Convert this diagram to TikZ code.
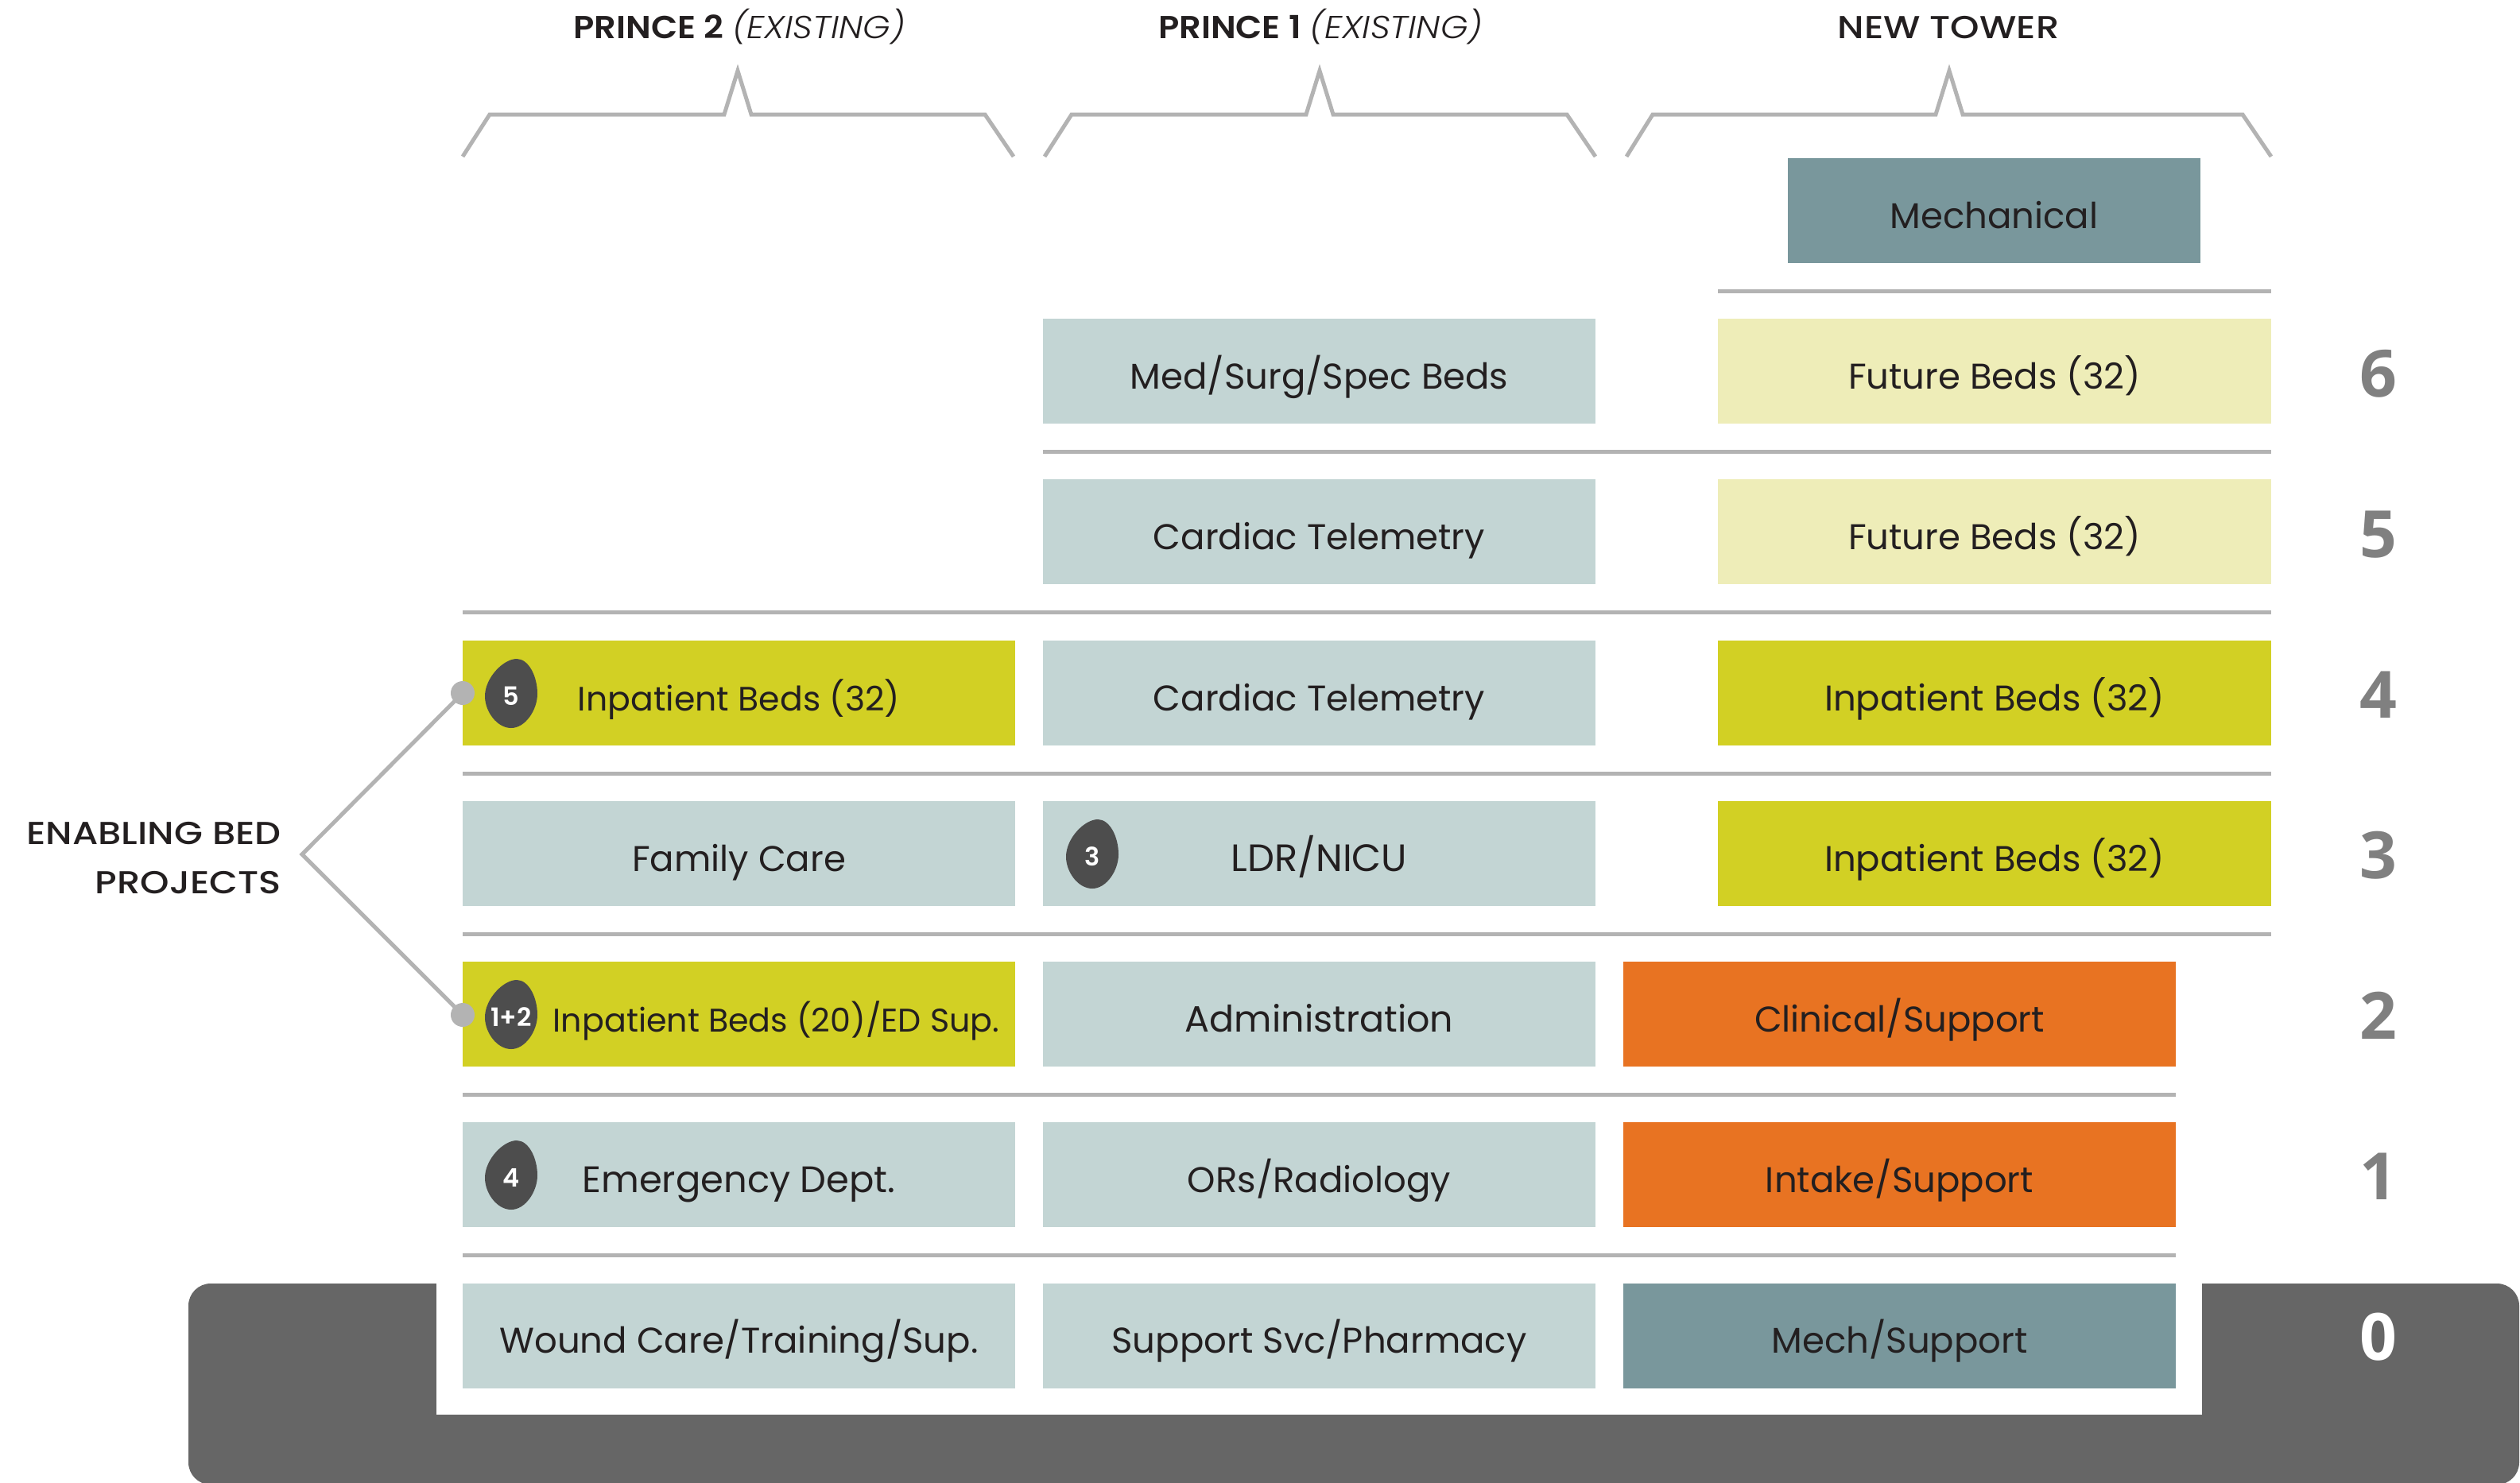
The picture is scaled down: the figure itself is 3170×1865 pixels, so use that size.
\documentclass[tikz,border=0pt]{standalone}
\usepackage{fontspec}
\setmainfont{Poppins}
\newfontfamily\medfont{Poppins Medium}[FakeStretch=1.16]
\newfontfamily\semifont{Poppins SemiBold}
\newfontfamily\headfont{Poppins SemiBold}[FakeStretch=1.08]
\newfontfamily\lightit{Poppins Light Italic}[FakeStretch=1.1]
\newfontfamily\numfont{Open Sans}[BoldFont={Open Sans Bold}]
\definecolor{limeC}{HTML}{D2D024}
\definecolor{paleC}{HTML}{EEEDB8}
\definecolor{tealL}{HTML}{C3D5D4}
\definecolor{tealD}{HTML}{79979C}
\definecolor{orangeC}{HTML}{E87322}
\definecolor{baseC}{HTML}{666666}
\definecolor{badgeC}{HTML}{4D4D4D}
\definecolor{ruleC}{HTML}{B3B3B3}
\definecolor{inkC}{HTML}{231F20}
\definecolor{numC}{HTML}{808080}
\tikzset{
  x=0.5pt,y=-0.5pt,
  cellbox/.style={anchor=north west,inner sep=0pt,outer sep=0pt,text=inkC,
    text height=44pt,text depth=22pt,font=\fontsize{22.5pt}{26pt}\selectfont},
  fs/.style={font=\fontsize{#1pt}{26pt}\selectfont},
  wideA/.style={cellbox,minimum width=347.5pt},
  mechbox/.style={cellbox,minimum width=259.5pt,fill=tealD},
  rulebar/.style={draw=ruleC,line width=2.5pt},
  bracketline/.style={draw=ruleC,line width=2.5pt,miter limit=10},
  header/.style={anchor=base,text=inkC,inner sep=0pt,font=\fontsize{20pt}{24pt}\selectfont},
  sidelabel/.style={anchor=base east,text=inkC,inner sep=0pt,font=\fontsize{20pt}{24pt}\selectfont\medfont},
  rownum/.style={anchor=base,inner sep=0pt,text=numC,font=\fontsize{41pt}{48pt}\selectfont\numfont\bfseries},
  badgetext/.style={inner sep=0pt,text=white,font=\fontsize{16pt}{18pt}\selectfont\semifont},
  dotnode/.style={circle,fill=ruleC,minimum size=15pt,inner sep=0pt},
}
\newcommand{\badgeat}[4]{%
  \fill[badgeC,shift={(#1,#2)}] (7,-44) .. controls (22,-44) and (33,-22) .. (33,0)
    .. controls (33,20) and (18,43) .. (0,43)
    .. controls (-18,43) and (-33,22) .. (-33,3)
    .. controls (-33,-20) and (-10,-44) .. (7,-44) -- cycle;
  \node[badgetext] (#3) at (#1,#2+3) {#4};}
\newcommand{\bracketshape}[5]{%
  \draw[bracketline] (#1,197) -- (#2,144) -- (#3-17,144) -- (#3,89) -- (#3+17,144) -- (#4,144) -- (#5,197);}
\begin{document}
\begin{tikzpicture}
\useasboundingbox (0,0) rectangle (3170,1865);
% base
\begin{scope}
\clip (0,0) rectangle (3170,1865);
\fill[baseC,rounded corners=14pt] (237,1615) rectangle (3169,1868);
\end{scope}
\fill[white] (549,1610) rectangle (2770,1780);
% headers
\node[header] (h2) at (930,48) {{\headfont PRINCE 2} {\lightit (EXISTING)}};
\node[header] (h1) at (1661,48) {{\headfont PRINCE 1} {\lightit (EXISTING)}};
\node[header] (h0) at (2451,48) {{\medfont NEW TOWER}};
% brackets
\bracketshape{582}{616}{928}{1239}{1275}
\bracketshape{1314}{1348}{1660}{1971}{2007}
\bracketshape{2046}{2079}{2452}{2821}{2857}
% rules
\draw[rulebar] (2161,366) -- (2857,366);
\draw[rulebar] (1312,568) -- (2857,568);
\draw[rulebar] (582,770.5) -- (2857,770.5);
\draw[rulebar] (582,973) -- (2857,973);
\draw[rulebar] (582,1175) -- (2857,1175);
\draw[rulebar] (582,1377) -- (2737,1377);
\draw[rulebar] (582,1579.5) -- (2737,1579.5);
% mechanical
\node[mechbox] (mech) at (2249,199) {Mechanical};
% row 6
\node[wideA,fill=tealL] (p1r6) at (1312,401) {Med/Surg/Spec Beds};
\node[wideA,minimum width=348pt,fill=paleC] (ntr6) at (2161,401) {Future Beds (32)};
% row 5
\node[wideA,fill=tealL] (p1r5) at (1312,603) {Cardiac Telemetry};
\node[wideA,minimum width=348pt,fill=paleC] (ntr5) at (2161,603) {Future Beds (32)};
% row 4
\node[wideA,fill=limeC,fs=21.3] (p2r4) at (582,806) {Inpatient Beds (32)};
\node[wideA,fill=tealL] (p1r4) at (1312,806) {Cardiac Telemetry};
\node[wideA,minimum width=348pt,fill=limeC] (ntr4) at (2161,806) {Inpatient Beds (32)};
% row 3
\node[wideA,fill=tealL] (p2r3) at (582,1008) {Family Care};
\node[wideA,fill=tealL,fs=24] (p1r3) at (1312,1008) {LDR/NICU};
\node[wideA,minimum width=348pt,fill=limeC] (ntr3) at (2161,1008) {Inpatient Beds (32)};
% row 2
\node[wideA,fill=limeC,fs=20.6] (p2r2) at (582,1210) {\hspace*{47pt}Inpatient Beds (20)/ED Sup.};
\node[wideA,fill=tealL,fs=23] (p1r2) at (1312,1210) {Administration};
\node[wideA,fill=orangeC] (ntr2) at (2042,1210) {Clinical/Support};
% row 1
\node[wideA,fill=tealL,fs=23.2] (p2r1) at (582,1412) {Emergency Dept.};
\node[wideA,fill=tealL] (p1r1) at (1312,1412) {ORs/Radiology};
\node[wideA,fill=orangeC] (ntr1) at (2042,1412) {Intake/Support};
% row 0
\node[wideA,fill=tealL] (p2r0) at (582,1614.5) {Wound Care/Training/Sup.};
\node[wideA,fill=tealL] (p1r0) at (1312,1614.5) {Support Svc/Pharmacy};
\node[wideA,fill=tealD] (ntr0) at (2042,1614.5) {Mech/Support};
% badges
\badgeat{643}{873}{b5}{5}
\badgeat{1374}{1075}{b3}{3}
\badgeat{643}{1277}{b12}{1+2}
\badgeat{643}{1479}{b4}{4}
% enabling bed projects
\node[sidelabel] (lab1) at (354,1062) {ENABLING BED};
\node[sidelabel] (lab2) at (354,1124) {PROJECTS};
\coordinate (apex) at (380,1075);
\node[dotnode] (dotA) at (582,872) {};
\node[dotnode] (dotB) at (582,1277) {};
\draw[rulebar,miter limit=10] (dotA.center) -- (apex) -- (dotB.center);
% floor numbers
\node[rownum] (n6) at (2992,499) {6};
\node[rownum] (n5) at (2992,701) {5};
\node[rownum] (n4) at (2992,903) {4};
\node[rownum] (n3) at (2992,1105) {3};
\node[rownum] (n2) at (2992,1307) {2};
\node[rownum] (n1) at (2992,1509) {1};
\node[rownum,text=white] (n0) at (2992,1711) {0};
\end{tikzpicture}
\end{document}
